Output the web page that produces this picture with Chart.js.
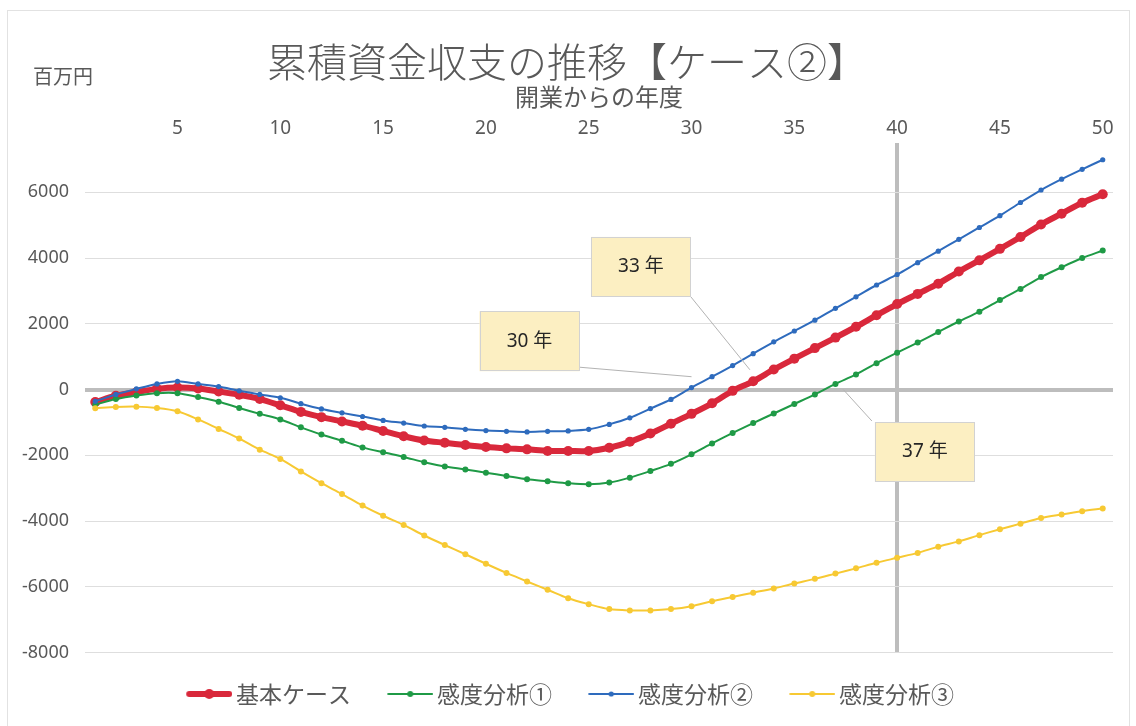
<!DOCTYPE html>
<html lang="ja">
<head>
<meta charset="utf-8">
<title>累積資金収支の推移【ケース②】</title>
<script src="https://cdn.jsdelivr.net/npm/chart.js@4.4.1/dist/chart.umd.min.js"></script>
<style>
  html, body { margin: 0; padding: 0; background: #fff; }
  #wrap { width: 1136px; height: 726px; }
</style>
</head>
<body>
<div id="wrap"><canvas id="chart" width="1136" height="726"></canvas></div>
<script>
// 開業からの年度 (1..50)
const years = [
  1, 2, 3, 4, 5, 6, 7, 8, 9, 10,
  11, 12, 13, 14, 15, 16, 17, 18, 19, 20,
  21, 22, 23, 24, 25, 26, 27, 28, 29, 30,
  31, 32, 33, 34, 35, 36, 37, 38, 39, 40,
  41, 42, 43, 44, 45, 46, 47, 48, 49, 50
];
const xTickLabels = [5, 10, 15, 20, 25, 30, 35, 40, 45, 50];
const yTickValues = [-8000, -6000, -4000, -2000, 0, 2000, 4000, 6000];

// 百万円
const baseCase = [
  -380, -190, -80, 20, 60, 30, -60, -160, -290, -480,
  -680, -840, -970, -1100, -1260, -1420, -1550, -1620, -1690, -1750,
  -1790, -1820, -1870, -1870, -1870, -1770, -1590, -1340, -1040, -740,
  -420, -40, 250, 610, 940, 1260, 1580, 1910, 2260, 2600,
  2910, 3220, 3590, 3930, 4280, 4640, 5020, 5350, 5680, 5940
];
const sens1 = [
  -460, -290, -180, -110, -110, -230, -370, -560, -740, -910,
  -1150, -1370, -1560, -1760, -1910, -2050, -2210, -2340, -2430, -2530,
  -2630, -2730, -2790, -2850, -2880, -2830, -2680, -2480, -2260, -1970,
  -1640, -1320, -1020, -730, -440, -150, 170, 460, 800, 1120,
  1430, 1750, 2070, 2370, 2720, 3060, 3420, 3720, 4000, 4230
];
const sens2 = [
  -360, -150, 20, 170, 250, 170, 90, -40, -150, -250,
  -430, -590, -710, -820, -940, -1020, -1110, -1150, -1210, -1250,
  -1270, -1290, -1270, -1260, -1210, -1060, -860, -580, -300, 60,
  390, 730, 1090, 1450, 1780, 2110, 2470, 2820, 3180, 3500,
  3860, 4210, 4570, 4930, 5290, 5690, 6070, 6400, 6700, 6990
];
const sens3 = [
  -570, -530, -520, -560, -660, -910, -1200, -1490, -1830, -2110,
  -2490, -2850, -3180, -3530, -3840, -4120, -4440, -4730, -5010, -5300,
  -5580, -5840, -6090, -6350, -6530, -6680, -6720, -6720, -6680, -6590,
  -6440, -6310, -6180, -6050, -5900, -5760, -5600, -5440, -5270, -5120,
  -4970, -4780, -4620, -4430, -4250, -4080, -3910, -3800, -3700, -3620
];

const seriesNames = ['基本ケース', '感度分析①', '感度分析②', '感度分析③'];

const JP = '"Noto Sans CJK JP", sans-serif';
const NUM = '"Noto Sans", "Noto Sans CJK JP", sans-serif';
const GRAY_TEXT = '#595959';

// small line+dot pictures for the legend, like Excel's.
// The picture has a blank strip on the left so items sit further apart
// while the text stays close to its icon.
function legendIcon(color, lineWidth, radius) {
  const c = document.createElement('canvas');
  c.width = 60;
  c.height = 14;
  const g = c.getContext('2d');
  const x0 = 14, x1 = 60;
  g.strokeStyle = color;
  g.lineWidth = lineWidth;
  g.lineCap = 'round';
  g.beginPath();
  g.moveTo(x0 + lineWidth / 2, 7);
  g.lineTo(x1 - lineWidth / 2, 7);
  g.stroke();
  g.fillStyle = color;
  g.beginPath();
  g.arc((x0 + x1) / 2, 7, radius, 0, Math.PI * 2);
  g.fill();
  return c;
}

const styles = [
  { color: '#d9283b', width: 6, radius: 5 },
  { color: '#1f9a46', width: 2, radius: 3 },
  { color: '#2e6bbd', width: 2, radius: 2.6 },
  { color: '#f7c933', width: 2, radius: 3 }
];
const icons = styles.map(s => legendIcon(s.color, s.width, s.radius));

// data labels with leader lines (box centre / line end in axis units)
const callouts = [
  { text: '30 年', box: [21.12, 1470], corner: 'right', target: [29.0, 390] },
  { text: '33 年', box: [26.54, 3730], corner: 'br', target: [31.84, 600] },
  { text: '37 年', box: [40.35, -1900], corner: 'tl', target: [36.38, 0] }
];

const calloutPlugin = {
  id: 'callouts',
  afterDatasetsDraw(chart) {
    const { ctx, scales: { x, y } } = chart;
    const w = 100, h = 60;
    ctx.save();
    callouts.forEach(c => {
      const cx = x.getPixelForValue(c.box[0]);
      const cy = y.getPixelForValue(c.box[1]);
      const left = cx - w / 2, top = cy - h / 2;
      let sx = left + w, sy = top + h - 4;
      if (c.corner === 'br') { sx = left + w; sy = top + h; }
      if (c.corner === 'tl') { sx = left - 3; sy = top - 1; }
      ctx.strokeStyle = '#b3b3b3';
      ctx.lineWidth = 1;
      ctx.beginPath();
      ctx.moveTo(sx, sy);
      ctx.lineTo(x.getPixelForValue(c.target[0]), y.getPixelForValue(c.target[1]));
      ctx.stroke();
      ctx.fillStyle = '#fcefc2';
      ctx.fillRect(left, top, w, h);
      ctx.strokeStyle = '#d2d2d2';
      ctx.strokeRect(Math.round(left) + 0.5, Math.round(top) + 0.5, w - 1, h - 1);
      ctx.fillStyle = '#262626';
      ctx.font = '19px ' + NUM;
      ctx.textAlign = 'center';
      ctx.textBaseline = 'middle';
      ctx.fillText(c.text, cx, cy);
    });
    ctx.restore();
  }
};

// unit label at top left and the faint chart frame
const extrasPlugin = {
  id: 'extras',
  beforeDraw(chart) {
    const { ctx } = chart;
    ctx.save();
    ctx.fillStyle = '#fff';
    ctx.fillRect(0, 0, chart.width, chart.height);
    ctx.strokeStyle = '#e2e2e2';
    ctx.lineWidth = 1;
    ctx.strokeRect(7.5, 10.5, 1122, 730);
    ctx.restore();
  },
  afterDraw(chart) {
    const { ctx } = chart;
    ctx.save();
    ctx.fillStyle = GRAY_TEXT;
    ctx.font = '20px ' + JP;
    ctx.textBaseline = 'middle';
    ctx.fillText('百万円', 33, 76);
    ctx.restore();
  }
};

const seriesData = [baseCase, sens1, sens2, sens3];

new Chart(document.getElementById('chart'), {
  type: 'line',
  data: {
    labels: years,
    datasets: seriesData.map((d, i) => ({
      label: seriesNames[i],
      data: d,
      borderColor: styles[i].color,
      backgroundColor: styles[i].color,
      borderWidth: styles[i].width,
      pointRadius: styles[i].radius,
      pointBorderWidth: 0,
      pointBackgroundColor: styles[i].color,
      tension: 0.3,
      order: 3 - i   // later series drawn on top, as in Excel
    }))
  },
  options: {
    responsive: false,
    animation: false,
    layout: { padding: { left: 21, right: 23, top: 0, bottom: 10.5 } },
    plugins: {
      title: {
        display: true,
        text: '累積資金収支の推移【ケース②】',
        color: GRAY_TEXT,
        font: { family: JP, size: 40, weight: 300, lineHeight: 1.1 },
        padding: { top: 40, bottom: 0 }
      },
      legend: {
        position: 'bottom',
        labels: {
          color: GRAY_TEXT,
          font: { family: JP, size: 23 },
          usePointStyle: true,
          pointStyleWidth: 44.5,
          padding: 30,
          sort: (a, b) => a.datasetIndex - b.datasetIndex,
          generateLabels(chart) {
            const items = Chart.defaults.plugins.legend.labels.generateLabels(chart);
            items.forEach(it => { it.pointStyle = icons[it.datasetIndex]; });
            return items;
          }
        }
      },
      tooltip: { enabled: false }
    },
    scales: {
      x: {
        type: 'category',
        position: 'top',
        offset: true,
        border: { display: false },
        grid: {
          drawTicks: false,
          color: c => (c.index === years.indexOf(40) ? '#bdbdbd' : 'rgba(0,0,0,0)'),
          lineWidth: c => (c.index === years.indexOf(40) ? 4 : 0)
        },
        ticks: {
          autoSkip: false,
          maxRotation: 0,
          padding: 3,
          color: GRAY_TEXT,
          font: { family: NUM, size: 19 },
          callback: (v, i) => (xTickLabels.includes(years[i]) ? String(years[i]) : '')
        },
        title: {
          display: true,
          text: '開業からの年度',
          color: GRAY_TEXT,
          font: { family: JP, size: 24, lineHeight: 1.1 },
          padding: 0
        },
        afterFit: s => { s.height = 59; }
      },
      y: {
        min: -8000,
        max: 7500,
        border: { display: false },
        grid: {
          drawTicks: false,
          color: c => (c.tick && c.tick.value === 0 ? '#bdbdbd' : '#dedede'),
          lineWidth: c => (c.tick && c.tick.value === 0 ? 4 : 1)
        },
        ticks: {
          padding: 16,
          color: GRAY_TEXT,
          font: { family: NUM, size: 18 },
          callback: v => String(v)
        },
        afterBuildTicks: s => { s.ticks = yTickValues.map(v => ({ value: v })); },
        afterFit: s => { s.width = 64; }
      }
    }
  },
  plugins: [calloutPlugin, extrasPlugin]
});
</script>
</body>
</html>
